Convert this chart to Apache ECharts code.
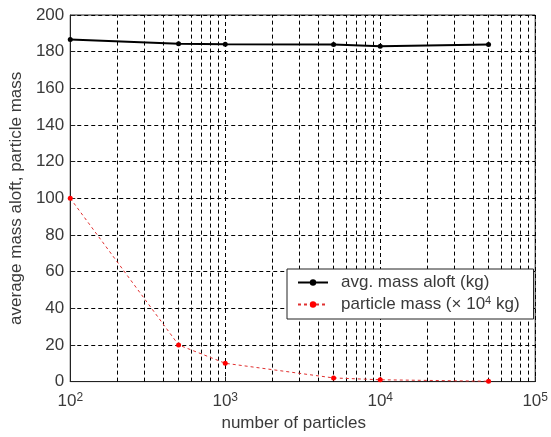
<!DOCTYPE html>
<html>
<head>
<meta charset="utf-8">
<script src="https://cdn.jsdelivr.net/npm/echarts@6/dist/echarts.min.js"></script>
<style>
html,body{margin:0;padding:0;background:#fff;}
#chart{width:551px;height:437px;}
</style>
</head>
<body>
<div id="chart"></div>
<script>
// number of particles (x, log scale)
var particles = [100, 500, 1000, 5000, 10000, 50000];
// average mass aloft (kg)
var avgMassAloft = [186.7, 184.3, 184.0, 183.9, 183.0, 183.9];
// particle mass (x 10^4 kg)
var particleMass = [100, 20, 10, 2, 1, 0.2];
// minor log grid positions
var minorGrid = [200, 300, 400, 500, 600, 700, 800, 900,
                 2000, 3000, 4000, 5000, 6000, 7000, 8000, 9000,
                 20000, 30000, 40000, 50000, 60000, 70000, 80000, 90000];
var yTicks = [0, 20, 40, 60, 80, 100, 120, 140, 160, 180, 200];
var seriesNames = ['avg. mass aloft (kg)', 'particle mass (\u00d7 10^4 kg)'];

var FONT = 'Liberation Sans, Arial, sans-serif';
var TXT = '#3a3a3a';
var FS = 17;
var dash = [4, 3];

function pairs(xs, ys) {
  return xs.map(function (x, i) { return [x, ys[i]]; });
}

var chart = echarts.init(document.getElementById('chart'), null, {renderer: 'canvas'});
chart.setOption({
  animation: false,
  backgroundColor: '#ffffff',
  textStyle: {fontFamily: FONT},
  grid: {left: 68, right: 12, top: 15, bottom: 50, show: true, borderColor: '#222', borderWidth: 1, containLabel: false},
  legend: {
    orient: 'vertical',
    left: 287, top: 269,
    data: seriesNames,
    backgroundColor: '#ffffff',
    borderColor: '#222',
    borderWidth: 1,
    borderRadius: 0,
    padding: [5, 14, 6, 10],
    itemGap: 4,
    itemWidth: 30,
    itemHeight: 8,
    formatter: function (name) {
      if (name.indexOf('particle') === 0) {
        return '{t|particle mass (\u00d7 10}{s|4}{u| kg)}';
      }
      return '{t|' + name + '}';
    },
    textStyle: {
      fontFamily: FONT, fontSize: FS, color: TXT,
      rich: {
        t: {fontFamily: FONT, fontSize: FS, color: TXT, lineHeight: 19, padding: [0, 0, 0, 8]},
        u: {fontFamily: FONT, fontSize: FS, color: TXT, lineHeight: 19},
        s: {fontFamily: FONT, fontSize: 11, color: TXT, verticalAlign: 'top', lineHeight: 19, padding: [0, 0, 4, 0]}
      }
    }
  },
  xAxis: {
    type: 'log',
    logBase: 10,
    min: 100,
    max: 100000,
    name: 'number of particles',
    nameLocation: 'middle',
    nameGap: 27,
    nameTextStyle: {fontFamily: FONT, fontSize: FS, color: TXT, padding: [0, 18, 0, 0]},
    axisLine: {show: true, onZero: false, lineStyle: {color: '#222', width: 1}},
    axisTick: {show: true, inside: true, length: 5, lineStyle: {color: '#222'}},
    splitLine: {show: true, lineStyle: {color: '#000', type: dash, width: 1}},
    axisLabel: {
      margin: 10,
      formatter: function (v) {
        var e = Math.round(Math.log10(v));
        return '{b|10}{s|' + e + '}';
      },
      rich: {
        b: {fontFamily: FONT, fontSize: FS, color: TXT, lineHeight: 20},
        s: {fontFamily: FONT, fontSize: 12, color: TXT, verticalAlign: 'top', lineHeight: 20}
      }
    }
  },
  yAxis: {
    type: 'value',
    min: 0,
    max: 200,
    interval: 20,
    name: 'average mass aloft, particle mass',
    nameLocation: 'middle',
    nameGap: 43,
    nameTextStyle: {fontFamily: FONT, fontSize: FS, color: TXT},
    axisLine: {show: true, lineStyle: {color: '#222', width: 1}},
    axisTick: {show: true, inside: true, length: 5, lineStyle: {color: '#222'}},
    splitLine: {show: true, lineStyle: {color: '#000', type: dash, width: 1}},
    axisLabel: {fontFamily: FONT, fontSize: FS, color: TXT, margin: 6}
  },
  series: [
    {
      name: seriesNames[0],
      type: 'line',
      data: pairs(particles, avgMassAloft),
      symbol: 'circle',
      symbolSize: 5,
      itemStyle: {color: '#000'},
      lineStyle: {color: '#000', width: 2},
      z: 5,
      markLine: {
        silent: true,
        symbol: 'none',
        label: {show: false},
        lineStyle: {color: '#000', type: dash, width: 1},
        animation: false,
        z: 1,
        data: minorGrid.map(function (v) { return {xAxis: v}; })
      }
    },
    {
      name: seriesNames[1],
      type: 'line',
      data: pairs(particles, particleMass),
      symbol: 'circle',
      symbolSize: 5,
      itemStyle: {color: '#ff0000'},
      lineStyle: {color: '#e03030', width: 1, type: [3, 3]},
      z: 5
    }
  ]
});
</script>
</body>
</html>
